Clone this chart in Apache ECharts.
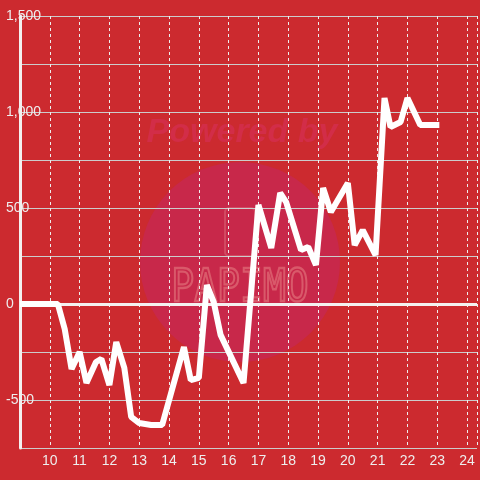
<!DOCTYPE html>
<html>
<head>
<meta charset="utf-8">
<script src="https://cdn.jsdelivr.net/npm/echarts@6/dist/echarts.min.js"></script>
<style>html,body{margin:0;padding:0;background:#cc2a2f;}#c{width:480px;height:480px;}</style>
</head>
<body>
<div id="c"></div>
<script>
const xValues = [9.0, 10.27, 10.5, 10.73, 11.0, 11.23, 11.55, 11.73, 12.0, 12.23, 12.5, 12.73, 13.0, 13.4, 13.77, 14.5, 14.73, 15.0, 15.27, 15.5, 15.73, 16.5, 17.0, 17.43, 17.73, 17.93, 18.43, 18.67, 18.93, 19.17, 19.43, 20.0, 20.23, 20.5, 20.93, 21.23, 21.43, 21.77, 22.0, 22.43, 23.07];
const yValues = [0, 0, -130, -339, -250, -411, -302, -286, -422, -198, -333, -588, -620, -630, -630, -224, -396, -385, 99, 10, -161, -411, 516, 292, 578, 531, 281, 297, 203, 604, 479, 630, 307, 385, 255, 1073, 922, 948, 1073, 932, 932];
const yTickLabels = [-500, 0, 500, 1000, 1500];
const xTickLabels = [10, 11, 12, 13, 14, 15, 16, 17, 18, 19, 20, 21, 22, 23, 24];

const chart = echarts.init(document.getElementById('c'), null, {renderer: 'canvas'});
const seriesData = xValues.map((x, i) => [x, yValues[i]]);
const font = 'Liberation Sans';

chart.setOption({
  backgroundColor: '#cc2a2f',
  animation: false,
  textStyle: {fontFamily: font},
  grid: {left: 20, right: 0, top: 16, bottom: 32, containLabel: false},
  graphic: [
    {type: 'circle', z: -10, shape: {cx: 240, cy: 262, r: 100}, style: {fill: '#c8284a'}},
    {type: 'text', z: -9, x: 242, y: 133, style: {text: 'Powered by', font: 'italic bold 34px "Liberation Sans"', fill: '#d22d48', align: 'center', verticalAlign: 'middle'}},
    {type: 'rect', z: -9, shape: {x: 225, y: 208, width: 30, height: 48, r: 4}, style: {fill: 'none', stroke: '#d24a62', lineWidth: 2}},
    {type: 'text', z: -9, x: 240, y: 290, scaleY: 1.15, style: {text: 'PAPIMO', font: '38px "DejaVu Sans Mono"', fill: 'none', stroke: '#d9596a', lineWidth: 2, align: 'center', verticalAlign: 'middle'}}
  ],
  xAxis: {
    type: 'value', min: 9, max: 24.3334, interval: 1,
    axisLine: {show: false},
    axisTick: {show: false},
    splitLine: {show: true, lineStyle: {color: '#eeeeee', width: 1, type: [3, 3]}},
    axisLabel: {
      color: '#eeeeee', fontSize: 14, fontFamily: font, margin: 6,
      showMinLabel: false,
      formatter: v => xTickLabels.includes(Math.round(v * 1000) / 1000) ? String(v) : ''
    }
  },
  yAxis: {
    type: 'value', min: -750, max: 1500, interval: 250,
    axisLine: {show: true, lineStyle: {color: '#f4f0f0', width: 3}},
    axisTick: {show: false},
    splitLine: {show: true, lineStyle: {color: '#cccccc', width: 1}},
    axisLabel: {
      color: '#eeeeee', fontSize: 14, fontFamily: font, align: 'left', margin: 14,
      formatter: v => yTickLabels.includes(v) ? v.toLocaleString('en-US') : ''
    }
  },
  series: [{
    type: 'line',
    data: seriesData,
    showSymbol: false,
    symbol: 'none',
    lineStyle: {color: '#ffffff', width: 6},
    z: 5,
    markLine: {
      silent: true,
      symbol: 'none',
      label: {show: false},
      lineStyle: {color: '#f4f0f0', width: 3, type: 'solid'},
      data: [{yAxis: 0}]
    }
  }]
});
</script>
</body>
</html>
